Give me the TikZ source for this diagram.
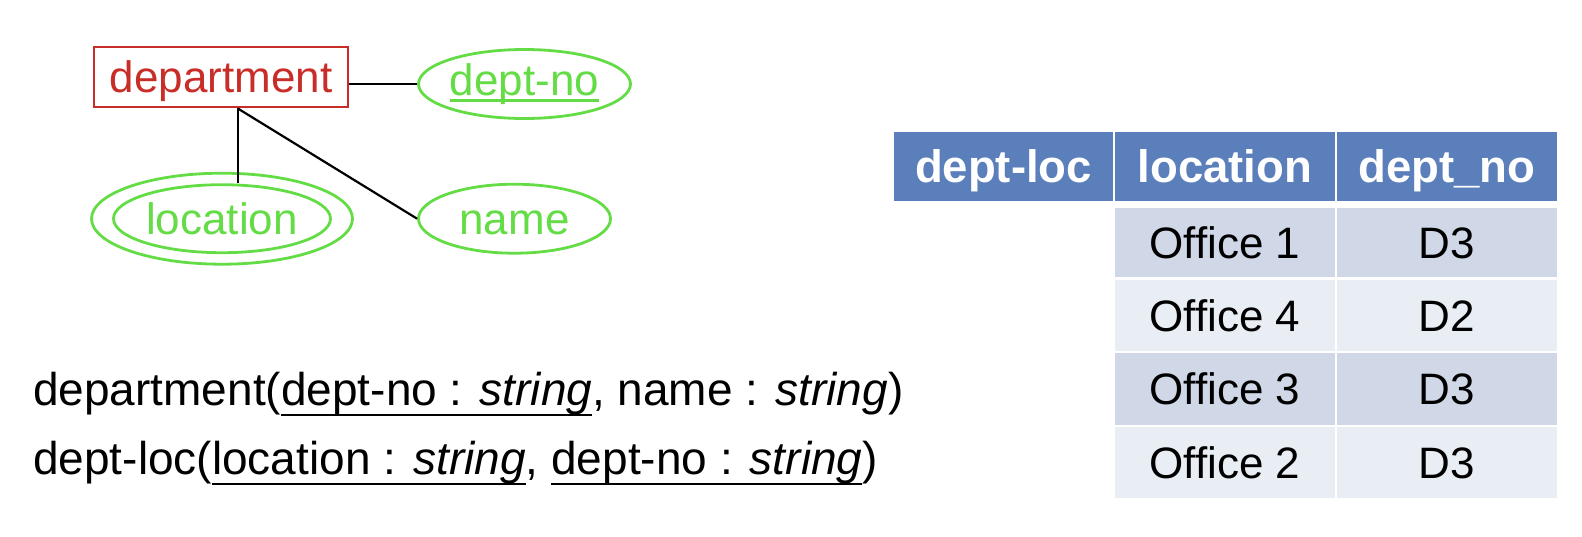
\documentclass[tikz,border=0pt]{standalone}
\usepackage{fontspec}
\setmainfont{Liberation Sans}
\usetikzlibrary{shapes.geometric}
\definecolor{ergreen}{RGB}{100,220,70}
\definecolor{erred}{RGB}{200,45,40}
\definecolor{hdrblue}{RGB}{91,127,187}
\definecolor{banda}{RGB}{208,216,232}
\definecolor{bandb}{RGB}{233,237,244}
\newcommand\myul[3]{\setbox0=\hbox{#3}\rlap{\rule[-#1]{\wd0}{#2}}\box0}
\tikzset{
  erfont/.style={font=\fontsize{44}{52}\selectfont},
  entity/.style={draw=erred, line width=2.8pt, text=erred, erfont, inner sep=0pt,
    minimum width=254pt, minimum height=60pt, text height=31.7pt, text depth=0pt},
  attr/.style={ellipse, draw=ergreen, line width=2.8pt, text=ergreen, erfont, inner sep=0pt,
    text height=31.7pt, text depth=0pt},
  conn/.style={draw=black, line width=2.2pt},
  cell/.style={inner sep=0pt, minimum width=220pt, text height=31.7pt, text depth=0pt,
    font=\fontsize{44}{52}\selectfont},
  hdr/.style={cell, fill=hdrblue, text=white, minimum height=69pt, text height=32.8pt,
    font=\fontsize{45.5}{52}\selectfont\bfseries},
  rowa/.style={cell, fill=banda},
  rowb/.style={cell, fill=bandb},
  schema/.style={anchor=base west, inner sep=0pt, font=\fontsize{46}{52}\selectfont},
}
\begin{document}
\begin{tikzpicture}[x=1pt,y=-1pt]
\useasboundingbox (0,0) rectangle (1582,536);
% ER diagram
\node[entity] (dept) at (221,77) {department};
\node[attr, minimum width=212pt, minimum height=69pt, text depth=9.7pt] (deptno) at (524.5,84)
  {\myul{6.5pt}{2.6pt}{dept-no}};
\node[attr, minimum width=261pt, minimum height=91pt] (locout) at (222,218.7) {};
\node[attr, minimum width=217pt, minimum height=68pt] (loc) at (222,218.7) {location};
\node[attr, minimum width=192pt, minimum height=69pt] (name) at (514.5,218.7) {name};
\coordinate (hub) at ([xshift=16.7pt]dept.south);
\draw[conn] (deptno.west -| dept.east) -- (deptno.west);
\draw[conn] (hub) -- (hub |- loc.north);
\draw[conn] (hub) -- (name.west);
% table
\node[hdr, minimum width=219pt] (h1) at (1003.5,166.5) {dept-loc};
\node[hdr] (h2) at (1225,166.5) {location};
\node[hdr] (h3) at (1447,166.5) {dept\_no};
\node[rowa, minimum height=69pt] (r1a) at (1225,242.5) {Office 1};
\node[rowa, minimum height=69pt] (r1b) at (1447,242.5) {D3};
\node[rowb, minimum height=71pt] (r2a) at (1225,315.5) {Office 4};
\node[rowb, minimum height=71pt] (r2b) at (1447,315.5) {D2};
\node[rowa, minimum height=72pt] (r3a) at (1225,389) {Office 3};
\node[rowa, minimum height=72pt] (r3b) at (1447,389) {D3};
\node[rowb, minimum height=71pt] (r4a) at (1225,462.5) {Office 2};
\node[rowb, minimum height=71pt] (r4b) at (1447,462.5) {D3};
% relational schema
\node[schema] (s1) at (33,405) {department(\myul{11pt}{2pt}{dept-no : \textit{string}}, name : \textit{string})};
\node[schema] (s2) at (33,474) {dept-loc(\myul{11pt}{2pt}{location : \textit{string}}, \myul{11pt}{2pt}{dept-no : \textit{string}})};
\end{tikzpicture}
\end{document}
